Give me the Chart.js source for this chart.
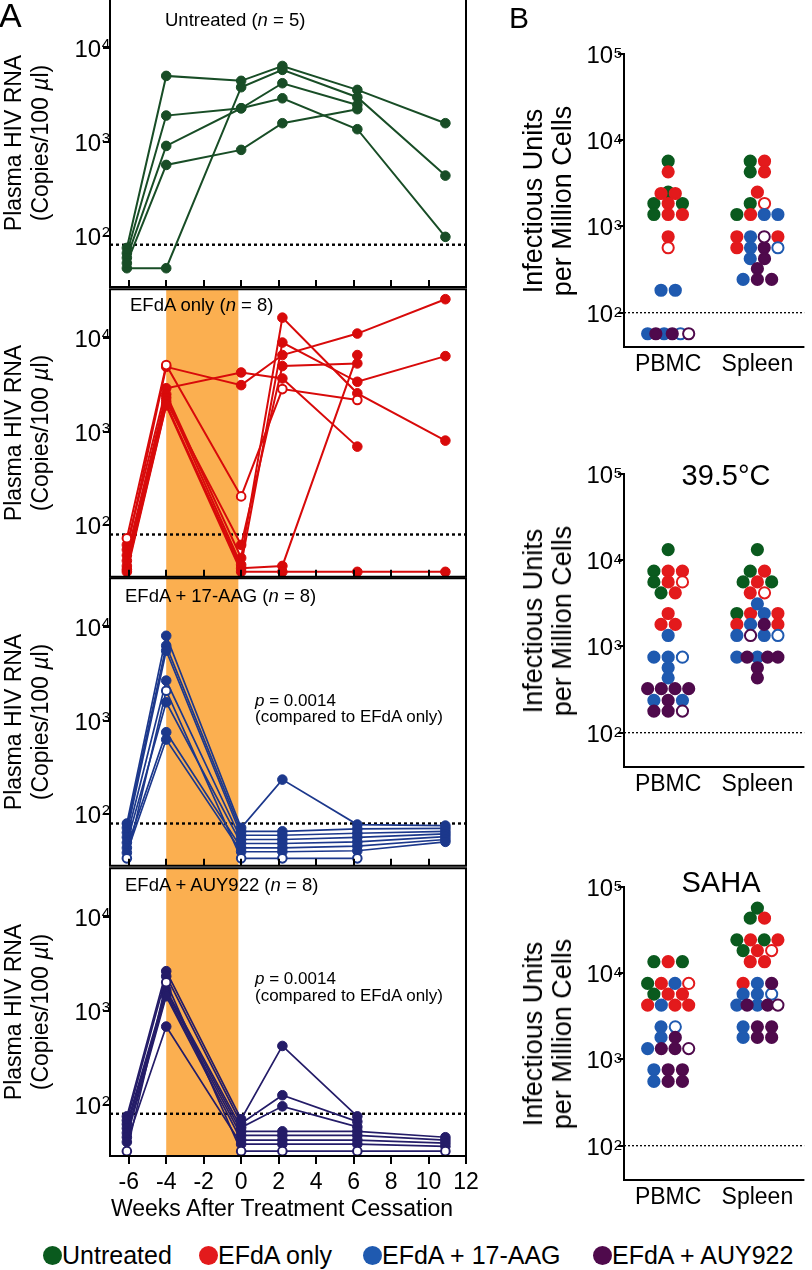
<!DOCTYPE html>
<html>
<head>
<meta charset="utf-8">
<script src="https://cdn.jsdelivr.net/npm/chart.js@4.4.1/dist/chart.umd.min.js"></script>
<style>
  body { margin: 0; background: #fff; }
  #wrap { position: relative; width: 812px; height: 1270px; overflow: hidden;
          font-family: "Liberation Sans", Arial, Helvetica, sans-serif; color: #000; }
  canvas { position: absolute; }
  .t { position: absolute; white-space: nowrap; line-height: 1; }
  .v { position: absolute; white-space: nowrap; text-align: center;
       transform: translate(-50%, -50%) rotate(-90deg); }
  .dot { position: absolute; width: 19px; height: 19px; border-radius: 50%; }
</style>
</head>
<body>
<div id="wrap"></div>
<script>
// ---- panel A data: weeks after treatment cessation, one row per animal ----
const weeks = [-6.1, -4, 0, 2.2, 6.2, 10.9];
const xTicksA = [-6, -4, -2, 0, 2, 4, 6, 8, 10, 12];
const yTicksA = [100, 1000, 10000];
const lodA = 80;

const untreated = [
  [74, 5000, 4430, 6380, 3550, 1570],
  [45, 45, 3790, 5800, 2966, 435],
  [65, 1893, 2264, 4180, 2455, null],
  [58, 900, 2264, 2890, 1355, 97],
  [51, 565, 817, 1570, 2212, null]
];
const efdaOnly = [
  [62, 2900, 4270, 3690, 692, null],
  [55, 4900, 3130, 6550, 11100, 25800],
  [48, 2500, 45, 16400, 2560, 802],
  [42, 2300, 38, 8900, 3400, 6380],
  [37, 2100, 62, 5000, 5330, null],
  [34, 1950, 35, 37, 6550, null],
  [32, 1900, 32, 32, 32, 32]
];
const efdaOnlyOpen = [73, 5120, 204, 2840, 2170, null];
const aag = [
  [80, 8020, 72, 235, 78, 76],
  [72, 6290, 66, 66, 70, 71],
  [64, 5560, 60, 60, 63, 66],
  [57, 2670, 54, 54, 57, 62],
  [50, 1567, 49, 49, 51, 58],
  [44, 752, 44, 44, 46, 54],
  [39, 628, 40, 40, 41, 51]
];
const aagOpen = [34, 2085, 34, 34, 34, null];
const auy = [
  [75, 2640, 70, 422, 75, null],
  [68, 2333, 63, 126, 66, null],
  [62, 1680, 57, 96, 58, null],
  [56, 1600, 52, 52, 52, 45],
  [50, 1500, 47, 47, 47, 42],
  [45, 1426, 42, 42, 42, 39],
  [40, 679, 38, 38, 38, 36]
];
const auyOpen = [32, 2014, 32, 32, 32, 32];

// ---- panel B data: [untreated, EFdA only, EFdA+17-AAG, EFdA+AUY922] ----
const tissues = ['PBMC', 'Spleen'];
const yTicksB = [100, 1000, 10000, 100000];
const lodB = 100;

const b1Pbmc = [[5710, 2500, 1845, 1845, 1377], [4300, 2410, 2410, 1845, 1377, 1377, 759],
                [182, 182, 57, 57], [57, 57]];
const b1PbmcOpen = [[], [566], [57], [57]];
const b1Spleen = [[5710, 4300, 1845, 1377], [5710, 4300, 2500, 1377, 759, 759, 566],
                  [1377, 1377, 759, 566, 423, 243], [566, 423, 324, 243, 243]];
const b1SpleenOpen = [[], [1845], [566], [759]];

const b2Pbmc = [[13300, 7460, 5610, 4190], [7460, 7460, 5610, 4190, 2410, 1800, 1800],
                [1341, 752, 752, 566, 433, 237, 237], [324, 324, 324, 324, 237, 178, 178]];
const b2PbmcOpen = [[], [5610], [752], [178]];
const b2Spleen = [[13300, 7460, 5610, 5610, 2410], [7460, 5610, 4190, 2410, 2410, 1800, 1800],
                  [3120, 2410, 1800, 1341, 1341, 752, 752], [1800, 752, 752, 752, 566, 433]];
const b2SpleenOpen = [[], [4190], [1341], [1341]];

const b3Pbmc = [[13600, 13600, 7620, 5730], [13600, 7620, 5730, 5730, 4270, 4270, 4270],
                [7620, 4270, 2390, 1800, 1337, 760, 556], [1800, 1337, 1337, 760, 760, 556, 556]];
const b3PbmcOpen = [[], [7620], [2390], [1337]];
const b3Spleen = [[57000, 43500, 24400, 24400, 18300], [43500, 24400, 24400, 18300, 13600, 13600, 7620],
                  [7620, 5730, 5730, 4270, 4270, 2390, 1800], [7620, 4270, 4270, 2390, 2390, 1800, 1800]];
const b3SpleenOpen = [[], [18300], [5730], [4270]];

const groupNames = ['Untreated', 'EFdA only', 'EFdA + 17-AAG', 'EFdA + AUY922'];

// ---- styling ----
const FONT = '"Liberation Sans", Arial, Helvetica, sans-serif';
const colA = ['#184d26', '#d80a0a', '#1c388c', '#241c68'];
const colB = ['#0a5a1e', '#e31a1c', '#1f5ab0', '#4f0a4c'];
const BAND_COLOR = '#fbaf50';
const A_XMIN = -7, A_XMAX = 12, A_YMIN = 28.4, A_YMAX = 32900;
const B_XMIN = 0.505, B_XMAX = 2.527, B_YMIN = 40, B_YMAX = 100000;
const FRAME_A = 288, AREA_B = 293;

const wrap = document.getElementById('wrap');

function makeCanvas(left, top, w, h) {
  const c = document.createElement('canvas');
  c.width = w; c.height = h;
  c.style.left = left + 'px'; c.style.top = top + 'px';
  c.style.width = w + 'px'; c.style.height = h + 'px';
  wrap.appendChild(c);
  return c;
}

function text(html, x, capY, size, center) {
  const d = document.createElement('div');
  d.className = 't';
  d.innerHTML = html;
  d.style.fontSize = size + 'px';
  d.style.left = x + 'px';
  d.style.top = (capY - 0.4885 * size) + 'px';
  if (center) d.style.transform = 'translateX(-50%)';
  wrap.appendChild(d);
  return d;
}

function vtitle(html, cx, cy, size, lh) {
  const d = document.createElement('div');
  d.className = 'v';
  d.innerHTML = html;
  d.style.fontSize = size + 'px';
  d.style.lineHeight = lh + 'px';
  d.style.left = cx + 'px';
  d.style.top = cy + 'px';
  wrap.appendChild(d);
}

// frame, ticks and tick labels, placed with the chart's own scales
const deco = {
  id: 'deco',
  beforeDatasetsDraw(chart, args, o) {
    if (!o.band) return;
    const { ctx, chartArea: a, scales } = chart;
    const x1 = scales.x.getPixelForValue(o.band[0]);
    const x2 = scales.x.getPixelForValue(o.band[1]);
    ctx.save();
    ctx.fillStyle = BAND_COLOR;
    ctx.fillRect(x1, a.top, x2 - x1, a.bottom - a.top);
    ctx.restore();
  },
  afterDraw(chart, args, o) {
    const { ctx, chartArea: a, scales } = chart;
    const sx = scales.x, sy = scales.y;
    ctx.save();
    ctx.strokeStyle = '#000';
    ctx.fillStyle = '#000';
    ctx.lineWidth = 2;
    ctx.beginPath();
    if (o.box) {
      ctx.rect(a.left, a.top, a.right - a.left, a.bottom - a.top);
    } else {
      ctx.moveTo(a.left, a.top - 1);
      ctx.lineTo(a.left, a.bottom);
      ctx.lineTo(a.right, a.bottom);
    }
    o.yTicks.forEach(v => {
      const py = Math.round(sy.getPixelForValue(v));
      ctx.moveTo(a.left - o.yTickLen, py);
      ctx.lineTo(a.left, py);
    });
    (o.xTicks || []).forEach(v => {
      const px = Math.round(sx.getPixelForValue(v));
      ctx.moveTo(px, a.bottom);
      ctx.lineTo(px, a.bottom + o.xTickLen);
    });
    ctx.stroke();

    // "10" with a raised exponent
    ctx.textBaseline = 'alphabetic';
    ctx.textAlign = 'right';
    o.yTicks.forEach(v => {
      const py = sy.getPixelForValue(v);
      const e = String(Math.round(Math.log10(v)));
      ctx.font = '15px ' + FONT;
      const ew = ctx.measureText(e).width;
      const ex = a.left - o.expRight;
      ctx.fillText(e, ex, py + o.expDy);
      ctx.font = '24px ' + FONT;
      ctx.fillText('10', ex - ew - 0.5, py + 9);
    });
    if (o.xLabels) {
      ctx.font = '23px ' + FONT;
      ctx.textAlign = 'center';
      o.xLabels.forEach((t, i) => {
        ctx.fillText(t, sx.getPixelForValue(o.xLabelAt[i]), a.bottom + o.xLabelDy);
      });
    }
    ctx.restore();
  }
};

function animal(row, color, lw, open) {
  return {
    data: weeks.map((w, i) => ({ x: w, y: row[i] })).filter(p => p.y != null),
    borderColor: color,
    borderWidth: lw,
    pointRadius: open ? 4.3 : 4.8,
    pointBorderWidth: open ? 2 : 1,
    pointBackgroundColor: open ? '#fff' : color,
    pointBorderColor: color,
    tension: 0
  };
}

function panelA(frameTop, rows, openRow, color, lw, band, last) {
  const padB = last ? 44 : 6;
  const cv = makeCanvas(0, frameTop - 6, 480, FRAME_A + 6 + padB);
  const sets = [{
    data: [{ x: A_XMIN, y: lodA }, { x: A_XMAX, y: lodA }],
    borderColor: '#000', borderWidth: 2.4, borderDash: [3, 3], pointRadius: 0
  }];
  rows.forEach(r => sets.push(animal(r, color, lw, false)));
  if (openRow) sets.push(animal(openRow, color, lw, true));
  sets.forEach((s, i) => { s.order = sets.length - i; });
  new Chart(cv, {
    type: 'line',
    data: { datasets: sets },
    options: {
      responsive: false, animation: false, devicePixelRatio: 1,
      layout: { padding: { left: 110, right: 14, top: 6, bottom: padB } },
      scales: {
        x: { type: 'linear', min: A_XMIN, max: A_XMAX, display: false },
        y: { type: 'logarithmic', min: A_YMIN, max: A_YMAX, display: false }
      },
      plugins: {
        legend: { display: false }, tooltip: { enabled: false },
        deco: {
          box: true, band: band ? [-4, -0.15] : null,
          yTicks: yTicksA, yTickLen: 7, expRight: 0, expDy: 1,
          xTicks: xTicksA, xTickLen: last ? 8 : -7,
          xLabels: last ? xTicksA.map(String) : null, xLabelAt: xTicksA, xLabelDy: 33
        }
      }
    },
    plugins: [deco]
  });
}

// Prism-like rows: equal values share a row, spread around the column centre
function swarm(cols, opens, centre) {
  const pts = [];
  cols.forEach((vals, g) => vals.forEach(v => pts.push({ g, y: v, open: false })));
  opens.forEach((vals, g) => vals.forEach(v => pts.push({ g, y: v, open: true })));
  const rows = new Map();
  pts.forEach(p => { if (!rows.has(p.y)) rows.set(p.y, []); rows.get(p.y).push(p); });
  rows.forEach(row => {
    const seen = {};
    row.forEach(p => { p.k = seen[p.g] = (seen[p.g] ?? -1) + 1; });
    row.sort((a, b) => a.k - b.k || a.g - b.g);
    const n = row.length;
    const step = n > 1 ? Math.min(0.16, 0.46 / (n - 1)) : 0;
    row.forEach((p, i) => { p.x = centre + (i - (n - 1) / 2) * step; });
  });
  return pts;
}

function panelB(areaTop, pbmc, pbmcOpen, spleen, spleenOpen) {
  const cv = makeCanvas(500, areaTop - 54, 312, 54 + AREA_B + 34);
  const pts = swarm(pbmc, pbmcOpen, 1).concat(swarm(spleen, spleenOpen, 2));
  const sets = [{
    data: [{ x: B_XMIN, y: lodB }, { x: B_XMAX, y: lodB }], showLine: true,
    borderColor: '#000', borderWidth: 1.3, borderDash: [2, 2], pointRadius: 0
  }];
  colB.forEach((col, g) => {
    const data = pts.filter(p => p.g === g).sort((a, b) => a.open - b.open);
    sets.push({
      label: groupNames[g], data,
      pointRadius: 5.6, pointBorderWidth: 2,
      pointBorderColor: col,
      pointBackgroundColor: c => (c.raw && c.raw.open) ? '#fff' : col
    });
  });
  sets.forEach((s, i) => { s.order = sets.length - i; });
  new Chart(cv, {
    type: 'scatter',
    data: { datasets: sets },
    options: {
      responsive: false, animation: false, devicePixelRatio: 1,
      layout: { padding: { left: 124, right: 0, top: 54, bottom: 34 } },
      scales: {
        x: { type: 'linear', min: B_XMIN, max: B_XMAX, display: false },
        y: { type: 'logarithmic', min: B_YMIN, max: B_YMAX, display: false }
      },
      plugins: {
        legend: { display: false }, tooltip: { enabled: false },
        deco: {
          box: false, yTicks: yTicksB, yTickLen: 6, expRight: 2, expDy: 4,
          xLabels: tissues, xLabelAt: [1, 2], xLabelDy: 24
        }
      }
    },
    plugins: [deco]
  });
}

// ---- panel A ----
const tops = [-1, 289, 578, 868];
panelA(tops[0], untreated, null, colA[0], 2, false, false);
panelA(tops[1], efdaOnly, efdaOnlyOpen, colA[1], 2, true, false);
panelA(tops[2], aag, aagOpen, colA[2], 1.7, true, false);
panelA(tops[3], auy, auyOpen, colA[3], 1.7, true, true);

text('A', -1, 15, 34, false);
text('Untreated (<i>n</i> = 5)', 165, 20, 18.5, false);
text('EFdA only (<i>n</i> = 8)', 130, 305, 18.5, false);
text('EFdA + 17-AAG (<i>n</i> = 8)', 125, 596, 18.5, false);
text('EFdA + AUY922 (<i>n</i> = 8)', 125, 885, 18.5, false);
text('<i>p</i> = 0.0014', 255, 700, 17, false);
text('(compared to EFdA only)', 255, 716, 17, false);
text('<i>p</i> = 0.0014', 255, 978, 17, false);
text('(compared to EFdA only)', 255, 995, 17, false);
tops.forEach(t => vtitle('Plasma HIV RNA<br>(Copies/100 <i>µ</i>l)', 26.5, t + FRAME_A / 2, 23, 27));
text('Weeks After Treatment Cessation', 282, 1208, 23, true);

// ---- panel B ----
const topsB = [54, 474, 887];
panelB(topsB[0], b1Pbmc, b1PbmcOpen, b1Spleen, b1SpleenOpen);
panelB(topsB[1], b2Pbmc, b2PbmcOpen, b2Spleen, b2SpleenOpen);
panelB(topsB[2], b3Pbmc, b3PbmcOpen, b3Spleen, b3SpleenOpen);

text('B', 509, 18, 30, false);
text('39.5°C', 726, 475, 29, true);
text('SAHA', 721, 882, 29, true);
topsB.forEach(t => vtitle('Infectious Units<br>per Million Cells', 547.5, t + AREA_B / 2, 27, 29));

// ---- legend ----
const legendX = [43, 199, 363, 593];
groupNames.forEach((name, g) => {
  const d = document.createElement('div');
  d.className = 'dot';
  d.style.left = legendX[g] + 'px';
  d.style.top = (1255 - 9.5) + 'px';
  d.style.background = colB[g];
  wrap.appendChild(d);
  text(name, legendX[g] + 19, 1255, 25, false);
});
</script>
</body>
</html>
